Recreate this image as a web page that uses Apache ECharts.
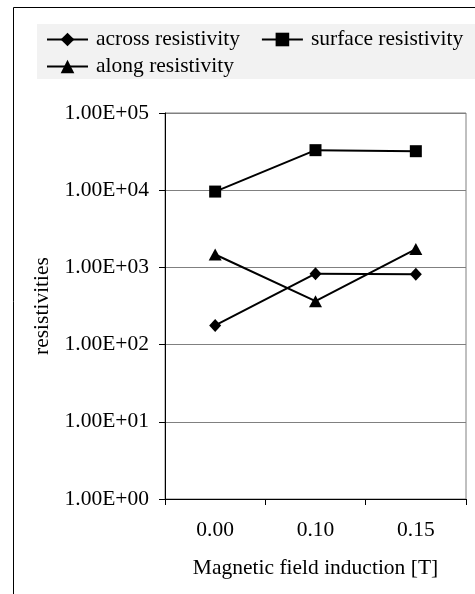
<!DOCTYPE html>
<html>
<head>
<meta charset="utf-8">
<script src="https://cdn.jsdelivr.net/npm/echarts@6/dist/echarts.min.js"></script>
<style>
  html, body { margin: 0; padding: 0; background: #fff; }
  #chart { width: 475px; height: 594px; }
</style>
</head>
<body>
<div id="chart"></div>
<script>
// values (log scale)
var categories = ['0.00', '0.10', '0.15'];
var across = [177, 830, 815];
var surface = [9600, 33000, 32000];
var along = [1470, 365, 1730];
var yTickLabels = ['1.00E+00', '1.00E+01', '1.00E+02', '1.00E+03', '1.00E+04', '1.00E+05'];

var font = 'Liberation Serif, Times New Roman, serif';
var fs = 21.5;

var lineSeries = function (name, data, symbol, size) {
  return {
    name: name,
    type: 'line',
    data: data,
    symbol: symbol,
    symbolSize: size,
    showAllSymbol: true,
    lineStyle: { color: '#000', width: 2 },
    itemStyle: { color: '#000' },
    emphasis: { disabled: true },
    animation: false
  };
};

var legendBase = {
  orient: 'horizontal',
  itemWidth: 41,
  itemHeight: 17,
  itemGap: 21,
  padding: 0,
  textStyle: { fontFamily: font, fontSize: fs, color: '#000', padding: [0, 0, 0, 3] }
};

var chart = echarts.init(document.getElementById('chart'));
chart.setOption({
  animation: false,
  backgroundColor: '#fff',
  graphic: [
    {
      type: 'rect', z: -10, silent: true,
      shape: { x: 13.5, y: 7.5, width: 480, height: 600 },
      style: { fill: '#fff', stroke: '#000', lineWidth: 1 }
    },
    {
      type: 'rect', z: -9, silent: true,
      shape: { x: 37, y: 24, width: 450, height: 55 },
      style: { fill: '#f2f2f2' }
    }
  ],
  legend: [
    Object.assign({}, legendBase, { left: 46, top: 28.5, data: ['across resistivity', 'surface resistivity'] }),
    Object.assign({}, legendBase, { left: 46, top: 55.5, data: ['along resistivity'] })
  ],
  grid: {
    left: 165, right: 9, top: 113, bottom: 95,
    show: true, borderColor: '#808080', borderWidth: 1
  },
  xAxis: {
    type: 'category',
    data: categories,
    name: 'Magnetic field induction [T]',
    nameLocation: 'middle',
    nameGap: 58,
    nameTextStyle: { fontFamily: font, fontSize: fs, color: '#000' },
    axisLine: { lineStyle: { color: '#000', width: 1 } },
    axisTick: { show: true, length: 6, lineStyle: { color: '#000' } },
    axisLabel: { fontFamily: font, fontSize: fs, color: '#000', margin: 20 },
    splitLine: { show: false }
  },
  yAxis: {
    type: 'log',
    logBase: 10,
    min: 1,
    max: 100000,
    name: 'resistivities',
    nameLocation: 'middle',
    nameGap: 108,
    nameTextStyle: { fontFamily: font, fontSize: fs, color: '#000' },
    axisLine: { show: true, lineStyle: { color: '#000', width: 1 } },
    axisTick: { show: true, length: 6, lineStyle: { color: '#000' } },
    axisLabel: {
      fontFamily: font, fontSize: fs, color: '#000', margin: 16,
      formatter: function (v) {
        var i = Math.round(Math.log(v) / Math.LN10);
        return yTickLabels[i] || '';
      }
    },
    splitLine: { show: true, lineStyle: { color: '#808080', width: 1 } }
  },
  series: [
    lineSeries('across resistivity', across, 'diamond', [12, 13]),
    lineSeries('surface resistivity', surface, 'rect', 12),
    lineSeries('along resistivity', along, 'triangle', [13, 12])
  ]
});
</script>
</body>
</html>
